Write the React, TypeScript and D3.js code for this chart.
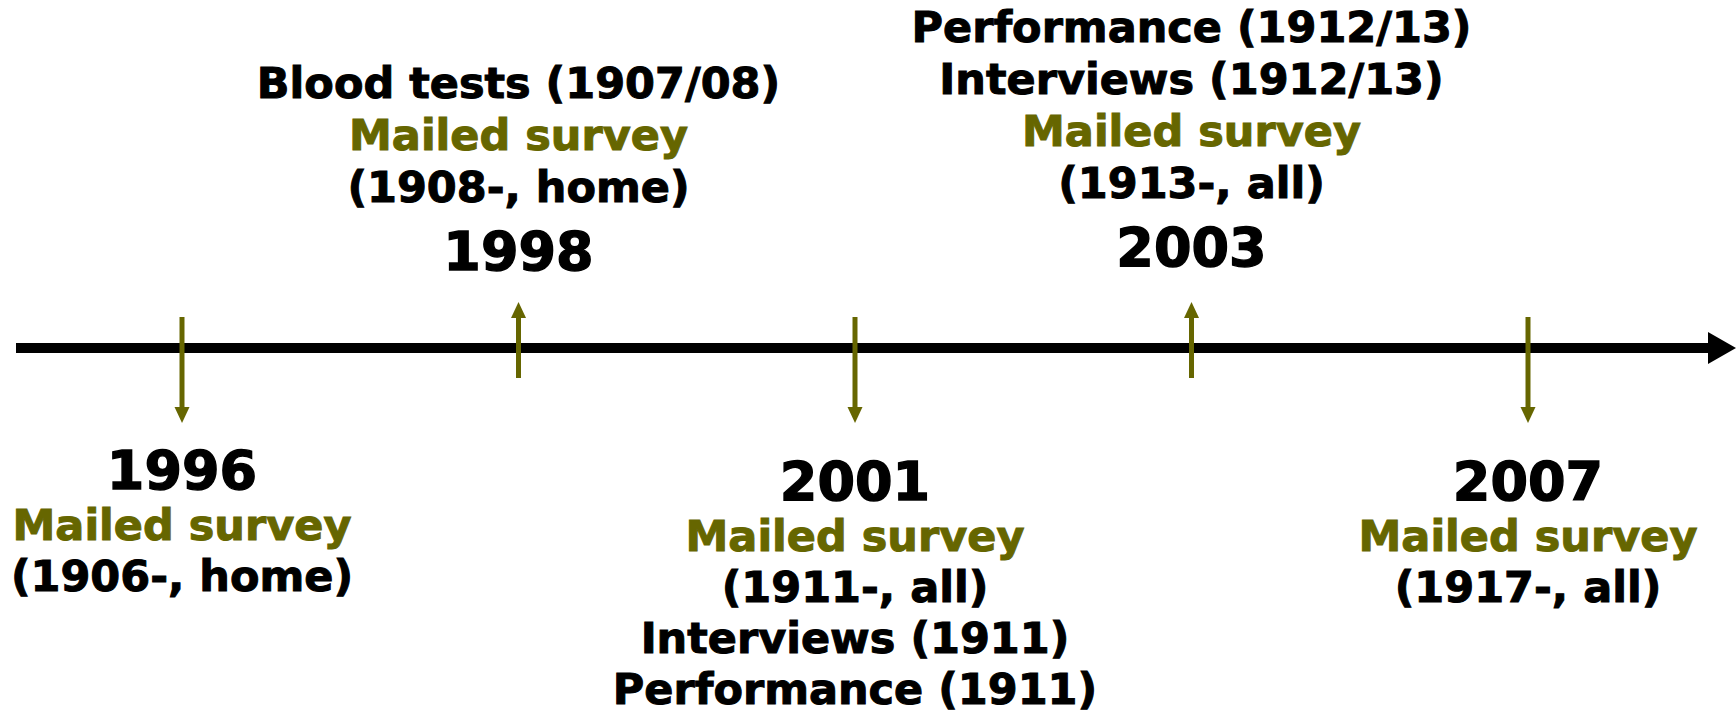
import { useRef, useEffect } from 'react';
import * as d3 from 'd3';

// Timeline events
const years = ['1996', '1998', '2001', '2003', '2007'];
const directions = ['down', 'up', 'down', 'up', 'down'];

// Notes per event, in reading order (top to bottom). kind: 'survey' = olive, 'note' = black
const notes1996 = [
    { text: 'Mailed survey', kind: 'survey' },
    { text: '(1906-, home)', kind: 'note' },
];
const notes1998 = [
    { text: 'Blood tests (1907/08)', kind: 'note' },
    { text: 'Mailed survey', kind: 'survey' },
    { text: '(1908-, home)', kind: 'note' },
];
const notes2001 = [
    { text: 'Mailed survey', kind: 'survey' },
    { text: '(1911-, all)', kind: 'note' },
    { text: 'Interviews (1911)', kind: 'note' },
    { text: 'Performance (1911)', kind: 'note' },
];
const notes2003 = [
    { text: 'Performance (1912/13)', kind: 'note' },
    { text: 'Interviews (1912/13)', kind: 'note' },
    { text: 'Mailed survey', kind: 'survey' },
    { text: '(1913-, all)', kind: 'note' },
];
const notes2007 = [
    { text: 'Mailed survey', kind: 'survey' },
    { text: '(1917-, all)', kind: 'note' },
];
const allNotes = [notes1996, notes1998, notes2001, notes2003, notes2007];

export default function App() {
    const svgRef = useRef<SVGSVGElement>(null);

    useEffect(() => {
        if (!svgRef.current) return;

        const width = 1736;
        const height = 715;
        const axisY = 348;
        const olive = '#666600';
        const font = '"DejaVu Sans", Verdana, sans-serif';
        const noteSize = 43;
        const yearSize = 54;
        const downGap = 51;
        const upGap = 52;

        const svg = d3.select(svgRef.current);
        svg.selectAll('*').remove();
        svg.attr('width', width).attr('height', height);

        const x = d3.scalePoint<string>()
            .domain(years)
            .range([182, 1528]);

        // Main axis line + arrowhead
        svg.append('line')
            .attr('x1', 16)
            .attr('x2', 1710)
            .attr('y1', axisY)
            .attr('y2', axisY)
            .attr('stroke', '#000')
            .attr('stroke-width', 10);

        svg.append('path')
            .attr('d', `M1708,${axisY - 16}L1736,${axisY}L1708,${axisY + 16}Z`)
            .attr('fill', '#000');

        const events = years.map((y, i) => ({ year: y, dir: directions[i], notes: allNotes[i] }));

        const g = svg.selectAll('g.event')
            .data(events)
            .enter()
            .append('g')
            .attr('class', 'event')
            .attr('transform', d => `translate(${x(d.year)},0)`);

        // Event arrows
        g.append('line')
            .attr('x1', 0)
            .attr('x2', 0)
            .attr('y1', d => d.dir === 'down' ? 317 : 378)
            .attr('y2', d => d.dir === 'down' ? 408 : 317)
            .attr('stroke', olive)
            .attr('stroke-width', 5);

        g.append('path')
            .attr('d', d => d.dir === 'down'
                ? 'M-7.5,407L7.5,407L0,423Z'
                : 'M-7.5,318L7.5,318L0,302Z')
            .attr('fill', olive);

        const addText = (grp: any, y: number, size: number, color: string, txt: string, sw: number) => {
            grp.append('text')
                .attr('y', y)
                .attr('text-anchor', 'middle')
                .attr('font-family', font)
                .attr('font-weight', 'bold')
                .attr('font-size', size)
                .attr('fill', color)
                .attr('stroke', color)
                .attr('stroke-width', sw)
                .text(txt);
        };

        // Labels
        g.each(function (d) {
            const grp = d3.select(this);
            if (d.dir === 'down') {
                const top = d.notes.length > 2 || d.year === '2007' ? 500 : 489;
                addText(grp, top, yearSize, '#000', d.year, 1.4);
                d.notes.forEach((n, j) => {
                    const c = n.kind === 'survey' ? olive : '#000';
                    addText(grp, top + (j + 1) * downGap, noteSize, c, n.text, 1);
                });
            } else {
                const yearBase = d.notes.length > 3 ? 266 : 270;
                addText(grp, yearBase, yearSize, '#000', d.year, 1.4);
                const n = d.notes.length;
                d.notes.forEach((note, j) => {
                    const c = note.kind === 'survey' ? olive : '#000';
                    addText(grp, yearBase - 68 - (n - 1 - j) * upGap, noteSize, c, note.text, 1);
                });
            }
        });
    }, []);

    return (
        <div style={{ position: 'absolute', left: 0, top: 0, width: 1736, height: 715, background: '#fff' }}>
            <svg ref={svgRef} style={{ display: 'block' }} />
        </div>
    );
}
